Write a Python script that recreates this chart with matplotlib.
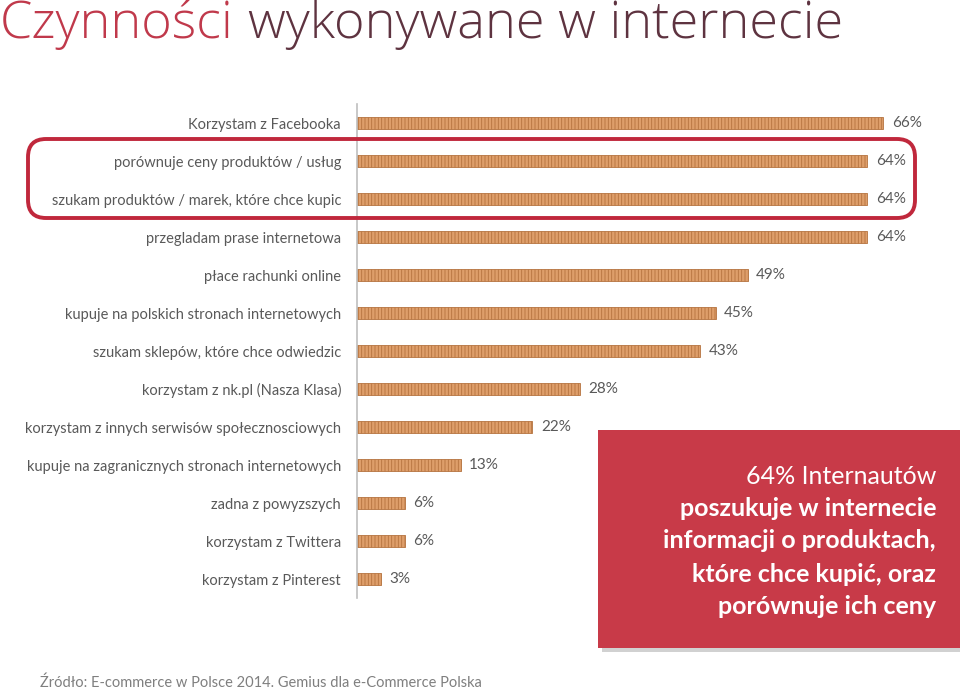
import matplotlib
matplotlib.use('Agg')
import matplotlib.pyplot as plt
from matplotlib.patches import FancyBboxPatch, Rectangle

plt.rcParams['font.family'] = ['Lato', 'DejaVu Sans']
plt.rcParams['hatch.linewidth'] = 0.6

# dane (od góry do dołu)
categories = [
    'Korzystam z Facebooka',
    'porównuje ceny produktów / usług',
    'szukam produktów / marek, które chce kupic',
    'przegladam prase internetowa',
    'płace rachunki online',
    'kupuje na polskich stronach internetowych',
    'szukam sklepów, które chce odwiedzic',
    'korzystam z nk.pl (Nasza Klasa)',
    'korzystam z innych serwisów społecznosciowych',
    'kupuje na zagranicznych stronach internetowych',
    'zadna z powyzszych',
    'korzystam z Twittera',
    'korzystam z Pinterest',
]
values = [66, 64, 64, 64, 49, 45, 43, 28, 22, 13, 6, 6, 3]
value_labels = [f'{v}%' for v in values]

W, H = 960, 691
fig = plt.figure(figsize=(W / 100, H / 100), dpi=100)

# główny wykres słupkowy
ax = fig.add_axes([357 / W, 1 - 598 / H, (W - 357) / W, 494 / H])
pos = list(range(len(categories)))
ax.barh(pos, values, height=0.32, color='#DE9E6A', edgecolor='#B5733F',
        hatch='|||||', linewidth=0.6)
ax.set_xlim(0, 75.6)
ax.set_ylim(len(categories) - 0.5, -0.5)
ax.set_yticks(pos)
ax.set_yticklabels(categories, fontsize=10.5, color='#595959')
ax.tick_params(axis='y', length=0, pad=11.5)
ax.set_xticks([])
for s in ['top', 'right', 'bottom']:
    ax.spines[s].set_visible(False)
ax.spines['left'].set_color('#BFBFBF')
ax.spines['left'].set_linewidth(1.2)
ax.patch.set_alpha(0)

for p, v, lab in zip(pos, values, value_labels):
    ax.annotate(lab, xy=(v, p), xytext=(6, 0), textcoords='offset points',
                va='center', ha='left', fontsize=11, color='#595959')

# nakładka w pikselach na ramki i tekst
ov = fig.add_axes([0, 0, 1, 1])
ov.set_xlim(0, W)
ov.set_ylim(H, 0)
ov.axis('off')
ov.patch.set_alpha(0)

# czerwona ramka wokół dwóch wierszy
ov.add_patch(FancyBboxPatch((28, 139), 887, 79, boxstyle='round,pad=0,rounding_size=18',
                            fill=False, edgecolor='#C0283C', linewidth=2.8))

# pole z komentarzem
ov.add_patch(Rectangle((602, 434), 380, 218, facecolor='#9A9A9A', alpha=0.45, edgecolor='none'))
ov.add_patch(Rectangle((598, 430), 380, 218, facecolor='#C83A48', edgecolor='none'))
box_lines = [
    ('64% Internautów', 'normal', 476),
    ('poszukuje w internecie', 'bold', 508),
    ('informacji o produktach,', 'bold', 541),
    ('które chce kupić, oraz', 'bold', 574),
    ('porównuje ich ceny', 'bold', 606),
]
for txt, wgt, y in box_lines:
    ov.text(936, y, txt, ha='right', va='center', fontsize=18, color='white', fontweight=wgt)

# tytuł w dwóch kolorach, dopasowany do szerokości ~845 px
title_font = ['Open Sans', 'DejaVu Sans']


def place_title(fs):
    t1 = ov.text(0, 38, 'Czynności', ha='left', va='baseline', fontsize=fs,
                 color='#C0394B', fontweight='light', family=title_font)
    fig.canvas.draw()
    x1 = t1.get_window_extent().x1
    t2 = ov.text(x1 + 0.28 * fs * 100 / 72, 38, 'wykonywane w internecie', ha='left',
                 va='baseline', fontsize=fs, color='#5E3340', fontweight='light',
                 family=title_font)
    fig.canvas.draw()
    return t1, t2, t2.get_window_extent().x1


t1, t2, xe = place_title(34)
fs = 34 * 845 / xe
t1.remove()
t2.remove()
place_title(fs)

# źródło
ov.text(40, 683, 'Źródło: E-commerce w Polsce 2014. Gemius dla e-Commerce Polska',
        ha='left', va='center', fontsize=10.5, color='#7F7F7F')

fig.savefig('out.png', dpi=100)
